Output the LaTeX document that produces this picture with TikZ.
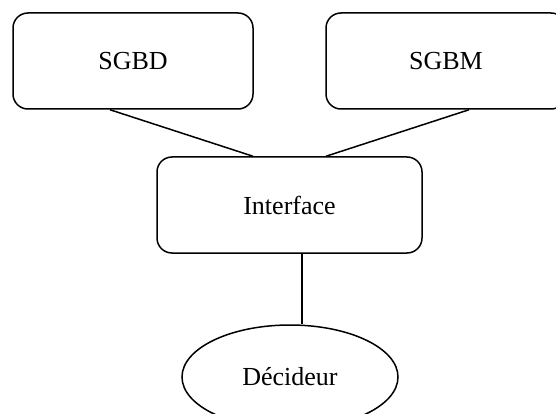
\documentclass[tikz,border=0pt]{standalone}
\usepackage{fontspec}
\setmainfont{Liberation Serif}
\usepackage{tikz}
\usetikzlibrary{shapes,arrows}
\usetikzlibrary{positioning}

\begin{document}
\begin{tikzpicture}[x=1pt,y=-1pt,line width=1.5pt,
  every node/.style={font=\fontsize{26}{31}\selectfont,inner sep=0pt},
  module/.style={draw,rounded corners=15pt,minimum width=240pt,minimum height=96pt},
  user/.style={draw,ellipse,minimum width=216pt,minimum height=104pt}]

  % frame
  \clip (0,0) rectangle (556,414);
  \useasboundingbox (0,0) rectangle (556,414);

  % modules
  \node[module] (sgbd) at (133,61) {SGBD};
  \node[module] (sgbm) at (446,61) {SGBM};
  \node[module,minimum width=265pt] (iface) at (289.5,205) {Interface};

  % decideur
  \node[user] (dec) at (290,377) {D\'ecideur};

  % links
  \draw ([xshift=-23pt]sgbd.south) -- ([xshift=-36.5pt]iface.north);
  \draw ([xshift=23pt]sgbm.south) -- ([xshift=36.5pt]iface.north);
  \draw ([xshift=12.5pt]iface.south) -- ([xshift=12.5pt]iface.south |- dec.north);

\end{tikzpicture}
\end{document}
